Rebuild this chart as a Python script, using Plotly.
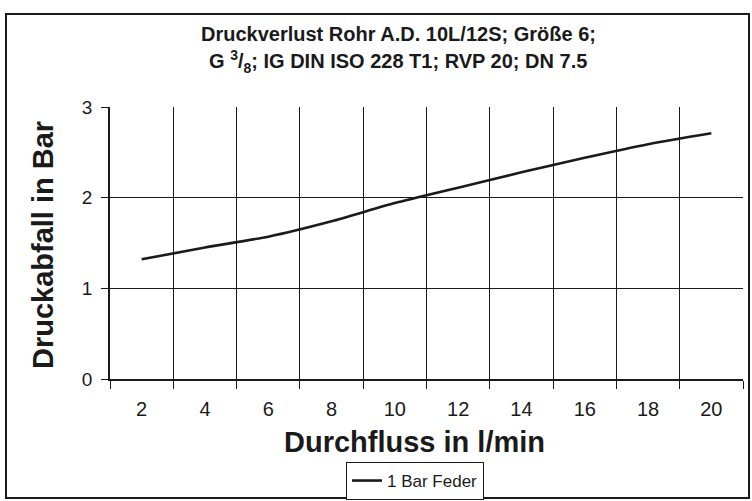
import plotly.graph_objects as go

categories = ["2", "4", "6", "8", "10", "12", "14", "16", "18", "20"]
druckabfall = [1.32, 1.45, 1.57, 1.74, 1.94, 2.11, 2.28, 2.44, 2.59, 2.71]
y_ticks = [0, 1, 2, 3]
series_name = "1 Bar Feder"

FONT = "Liberation Sans, Arial, sans-serif"
INK = "#1a1a1a"

fig = go.Figure()
fig.add_trace(go.Scatter(
    x=categories, y=druckabfall, mode="lines", name=series_name,
    line=dict(color=INK, width=2.6, shape="spline", smoothing=0.6),
))

fig.update_layout(
    width=752, height=501,
    margin=dict(l=110, r=9, t=107, b=122, autoexpand=False),
    paper_bgcolor="white", plot_bgcolor="white",
    font=dict(family=FONT, color=INK, size=14),
    showlegend=True,
    legend=dict(
        xref="container", yref="container",
        x=415 / 752, y=(501 - 481) / 501, xanchor="center", yanchor="middle",
        bordercolor=INK, borderwidth=1, bgcolor="white",
        font=dict(family=FONT, size=17, color=INK),
        itemwidth=30, tracegroupgap=0,
    ),
    xaxis=dict(
        type="category", tickson="boundaries", range=[-0.5, 9.5],
        ticks="outside", ticklen=8, tickwidth=1.2, tickcolor=INK,
        showgrid=True, gridcolor=INK, gridwidth=1,
        showline=True, linecolor=INK, linewidth=1.5,
        tickfont=dict(family=FONT, size=20, color=INK),
        ticklabelstandoff=11, automargin=False,
    ),
    yaxis=dict(
        range=[0, 3], tickvals=y_ticks,
        ticks="outside", ticklen=7, tickwidth=1.2, tickcolor=INK,
        showgrid=True, gridcolor=INK, gridwidth=1, zeroline=False,
        showline=True, linecolor=INK, linewidth=1.5,
        tickfont=dict(family=FONT, size=19, color=INK),
        ticklabelstandoff=5, automargin=False,
    ),
)

fig.add_annotation(
    text="<b>Druckverlust Rohr A.D. 10L/12S; Größe 6;</b>",
    xref="paper", yref="paper", x=0.455, y=1.268, showarrow=False,
    xanchor="center", yanchor="middle",
    font=dict(family=FONT, size=20, color=INK),
)
fig.add_annotation(
    text="<b>G <sup>3</sup>/<sub>8</sub>; IG DIN ISO 228 T1; RVP 20; DN 7.5</b>",
    xref="paper", yref="paper", x=0.455, y=1.169, showarrow=False,
    xanchor="center", yanchor="middle",
    font=dict(family=FONT, size=20, color=INK),
)
fig.add_annotation(
    text="<b>Druckabfall in Bar</b>",
    xref="paper", yref="paper", x=-0.1058, y=0.4926, showarrow=False,
    xanchor="center", yanchor="middle", textangle=-90,
    font=dict(family=FONT, size=29, color=INK),
)
fig.add_annotation(
    text="<b>Durchfluss in l/min</b>",
    xref="paper", yref="paper", x=0.4818, y=-0.2316, showarrow=False,
    xanchor="center", yanchor="middle",
    font=dict(family=FONT, size=29, color=INK),
)
fig.add_shape(
    type="rect", xref="paper", yref="paper",
    x0=-0.1643, x1=1.0095, y0=-0.4375, y1=1.3419,
    line=dict(color=INK, width=2), layer="below",
)

fig.write_html(
    "out.html",
    config={"displayModeBar": False},
    post_script="document.body.style.margin='0px';document.body.style.overflow='hidden';",
)
